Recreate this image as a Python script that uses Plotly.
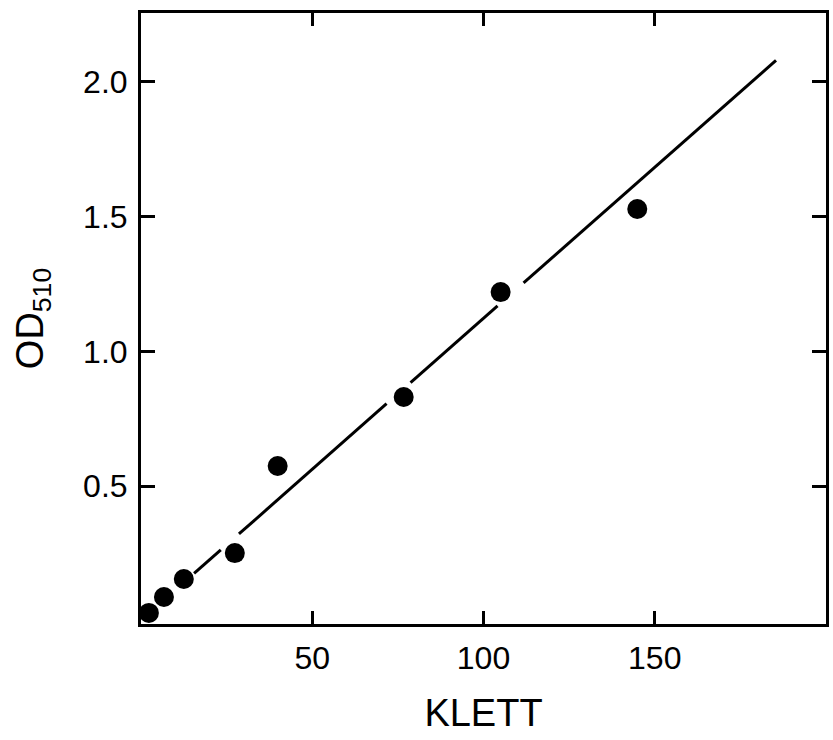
import plotly.graph_objects as go

# Data
klett = [2.3, 6.7, 12.5, 27.4, 39.9, 76.7, 105.0, 144.9]
od510 = [0.030, 0.089, 0.156, 0.252, 0.575, 0.831, 1.220, 1.528]

# Fitted straight line, drawn with small breaks near the dots (as in the original)
fit_x = [15.5, 23.3, None, 28.6, 71.7, None, 78.7, 104.1, None, 111.7, 185.4]
fit_y = [0.177, 0.264, None, 0.323, 0.806, None, 0.884, 1.169, None, 1.254, 2.079]

x_ticks = [50, 100, 150]
x_ticklabels = ["50", "100", "150"]
y_ticks = [0.5, 1.0, 1.5, 2.0]
y_ticklabels = ["0.5", "1.0", "1.5", "2.0"]

FONT = "Liberation Sans"

fig = go.Figure()
fig.add_trace(go.Scatter(x=fit_x, y=fit_y, mode="lines",
                         line=dict(color="black", width=3),
                         connectgaps=False, hoverinfo="skip"))
fig.add_trace(go.Scatter(x=klett, y=od510, mode="markers",
                         marker=dict(color="black", size=20,
                                     line=dict(width=0))))

fig.update_layout(
    width=833, height=740,
    margin=dict(l=141, r=4, t=13, b=116),
    paper_bgcolor="white", plot_bgcolor="white",
    showlegend=False,
    font=dict(family=FONT, color="black", size=32),
)
fig.update_xaxes(
    range=[0, 200], showgrid=False, zeroline=False,
    showline=True, linecolor="black", linewidth=3, mirror="ticks",
    ticks="inside", ticklen=13, tickwidth=2.5, tickcolor="black",
    tickvals=x_ticks, ticktext=x_ticklabels,
    tickfont=dict(family=FONT, size=32, color="black"),
    ticklabelstandoff=4,
    title=dict(text="KLETT", font=dict(family=FONT, size=38, color="black"),
               standoff=24),
)
fig.update_yaxes(
    range=[-0.011, 2.255], showgrid=False, zeroline=False,
    showline=True, linecolor="black", linewidth=3, mirror="ticks",
    ticks="inside", ticklen=14, tickwidth=2.5, tickcolor="black",
    tickvals=y_ticks, ticktext=y_ticklabels,
    tickfont=dict(family=FONT, size=32, color="black"),
    ticklabelstandoff=4,
    title=dict(text="OD<sub>510</sub>", font=dict(family=FONT, size=38, color="black"),
               standoff=28),
)

fig.write_html("out.html")
